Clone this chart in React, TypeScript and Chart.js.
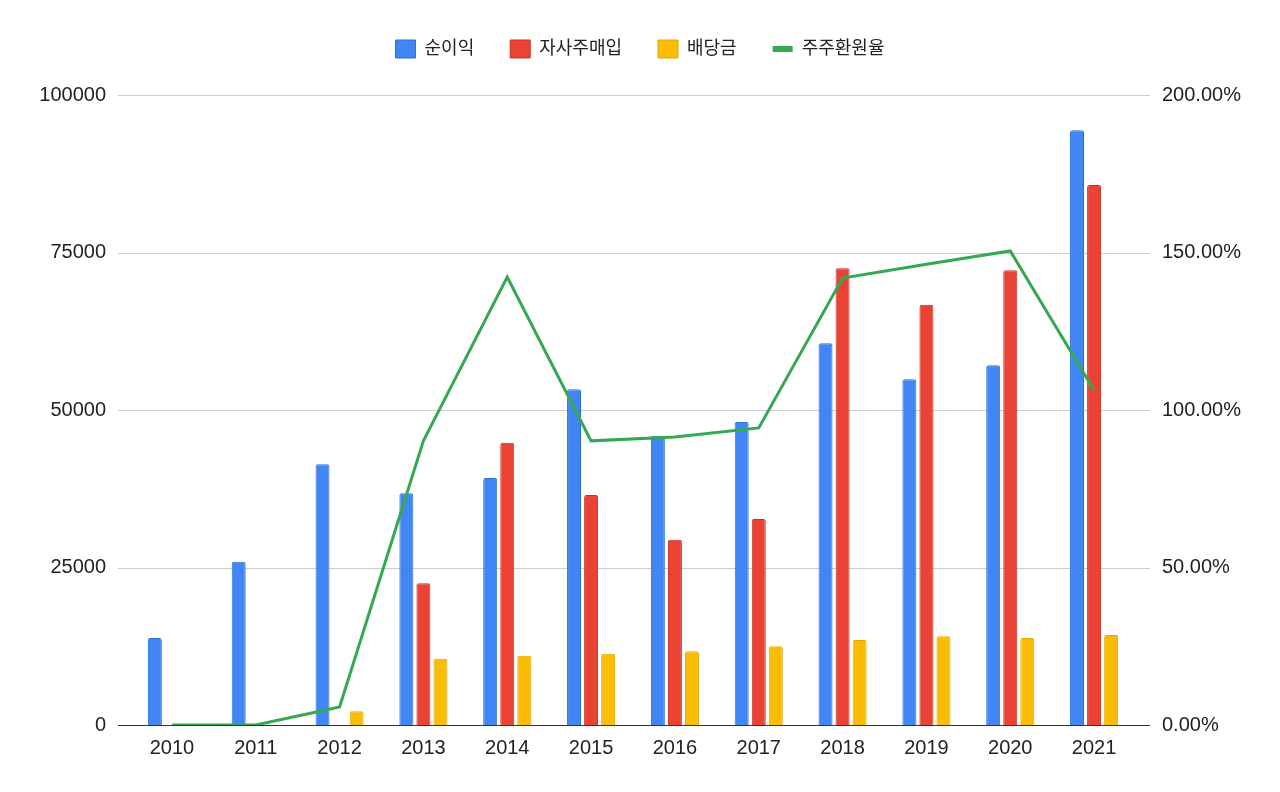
import { useEffect, useRef } from 'react'
import Chart from 'chart.js/auto'

const years = ['2010', '2011', '2012', '2013', '2014', '2015', '2016', '2017', '2018', '2019', '2020', '2021']
const netIncome = [13800, 25900, 41400, 36800, 39200, 53300, 45900, 48100, 60600, 54900, 57100, 94400]
const buyback = [null, null, null, 22500, 44800, 36500, 29400, 32700, 72500, 66700, 72200, 85700]
const dividend = [null, null, 2200, 10500, 11000, 11300, 11700, 12500, 13500, 14100, 13800, 14300]
const returnRatio = [0, 0, 5.7, 90.2, 142.2, 90.2, 91.4, 94.3, 141.9, 146.3, 150.5, 106.3]

const FONT = "'Liberation Sans', Arial, 'Noto Sans CJK KR', sans-serif"

// google-charts style gridlines that run a bit past the plot area
const gridPlugin = {
  id: 'wideGrid',
  beforeDatasetsDraw(chart: any) {
    const { ctx, chartArea, scales } = chart
    const y = scales.y
    ctx.save()
    y.ticks.forEach((t: any) => {
      const py = Math.round(y.getPixelForValue(t.value)) + 0.5
      ctx.beginPath()
      ctx.strokeStyle = t.value === 0 ? '#333333' : '#cccccc'
      ctx.lineWidth = 1
      ctx.moveTo(chartArea.left - 12, py)
      ctx.lineTo(chartArea.right + 14, py)
      ctx.stroke()
    })
    ctx.restore()
  },
}

const legendHeightPlugin = {
  id: 'legendHeight',
  beforeInit(chart: any) {
    const fit = chart.legend.fit
    chart.legend.fit = function () {
      fit.bind(chart.legend)()
      this.height = 91
    }
  },
}

export default function App() {
  const canvasRef = useRef<HTMLCanvasElement>(null)
  const chartRef = useRef<Chart | null>(null)

  useEffect(() => {
    const canvas = canvasRef.current
    if (!canvas) return
    const ctx = canvas.getContext('2d')
    if (!ctx) return

    if (chartRef.current) chartRef.current.destroy()

    const barCommon = {
      type: 'bar' as const,
      yAxisID: 'y',
      order: 1,
      borderWidth: 1,
      borderRadius: { topLeft: 2, topRight: 2, bottomLeft: 0, bottomRight: 0 },
      borderSkipped: 'bottom' as const,
      categoryPercentage: 0.61,
      barPercentage: 0.82,
      pointStyle: 'rect',
    }

    chartRef.current = new Chart(ctx, {
      data: {
        labels: years,
        datasets: [
          {
            ...barCommon,
            label: '순이익',
            data: netIncome,
            backgroundColor: '#4285F4',
            borderColor: '#2a6fe0',
          },
          {
            ...barCommon,
            label: '자사주매입',
            data: buyback,
            backgroundColor: '#EA4335',
            borderColor: '#c9301f',
          },
          {
            ...barCommon,
            label: '배당금',
            data: dividend,
            backgroundColor: '#FBBC04',
            borderColor: '#e0a800',
          },
          {
            type: 'line',
            label: '주주환원율',
            data: returnRatio,
            yAxisID: 'y1',
            order: 0,
            borderColor: '#34A853',
            backgroundColor: '#34A853',
            borderWidth: 3,
            tension: 0,
            pointRadius: 0,
            pointHoverRadius: 0,
            pointStyle: 'line',
          },
        ] as any,
      },
      options: {
        animation: false,
        responsive: true,
        maintainAspectRatio: false,
        layout: { padding: { top: 4, left: 0, right: 0, bottom: 0 } },
        plugins: {
          legend: {
            position: 'top',
            labels: {
              color: '#222222',
              font: { family: FONT, size: 18 },
              usePointStyle: true,
              pointStyleWidth: 20,
              boxHeight: 20,
              padding: 36,
              sort: (a: any, b: any) => a.datasetIndex - b.datasetIndex,
              generateLabels(chart: any) {
                const items = Chart.defaults.plugins.legend.labels.generateLabels(chart)
                items.forEach((it: any) => {
                  if (it.datasetIndex === 3) {
                    it.lineWidth = 6
                    it.strokeStyle = '#34A853'
                  } else {
                    it.lineWidth = 1
                  }
                })
                return items
              },
            },
          },
          tooltip: { enabled: false },
        },
        scales: {
          x: {
            grid: { display: false },
            border: { display: false },
            ticks: {
              color: '#222222',
              font: { family: FONT, size: 20 },
              padding: 3,
              maxRotation: 0,
            },
            afterFit(scale: any) {
              scale.height = 67
            },
          },
          y: {
            position: 'left',
            min: 0,
            max: 100000,
            grid: { display: false },
            border: { display: false },
            ticks: {
              stepSize: 25000,
              color: '#222222',
              font: { family: FONT, size: 20 },
              padding: 16,
              callback: (v: any) => String(v),
            },
            afterFit(scale: any) {
              scale.width = 130
            },
          },
          y1: {
            position: 'right',
            min: 0,
            max: 200,
            grid: { display: false },
            border: { display: false },
            ticks: {
              stepSize: 50,
              color: '#222222',
              font: { family: FONT, size: 20 },
              padding: 18,
              callback: (v: any) => Number(v).toFixed(2) + '%',
            },
            afterFit(scale: any) {
              scale.width = 144
            },
          },
        },
      },
      plugins: [gridPlugin, legendHeightPlugin],
    })

    return () => {
      if (chartRef.current) {
        chartRef.current.destroy()
        chartRef.current = null
      }
    }
  }, [])

  return (
    <div style={{ position: 'fixed', left: 0, top: 0, width: 1280, height: 792, background: '#ffffff' }}>
      <canvas ref={canvasRef} />
    </div>
  )
}
